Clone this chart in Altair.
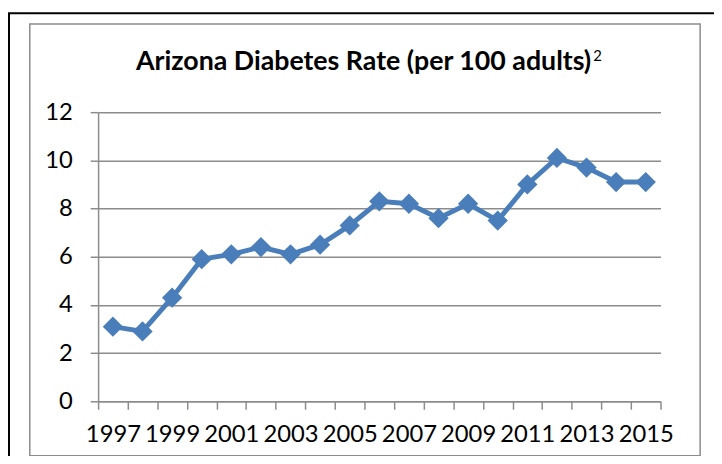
import altair as alt
import pandas as pd

years = [str(y) for y in range(1997, 2016)]
rates = [3.1, 2.9, 4.3, 5.9, 6.1, 6.4, 6.1, 6.5, 7.3, 8.3, 8.2, 7.6, 8.2, 7.5, 9.0, 10.1, 9.7, 9.1, 9.1]
y_ticks = [0, 2, 4, 6, 8, 10, 12]
title_main = "Arizona Diabetes Rate (per 100 adults)"
title_sup = "2"

df = pd.DataFrame({"year": years, "rate": rates})
one = pd.DataFrame({"k": [0]})

BLUE = "#4a7ebb"
GRAY = "#8c8c8c"
FONT = "Lato"

x_enc = alt.X(
    "year:O",
    scale=alt.Scale(type="band", paddingInner=0, paddingOuter=0),
    axis=alt.Axis(
        title=None,
        labelAngle=0,
        tickBand="extent",
        labelExpr="toNumber(datum.value) % 2 == 1 ? datum.label : ''",
        grid=False,
    ),
)
y_enc = alt.Y(
    "rate:Q",
    scale=alt.Scale(domain=[0, 12], nice=False),
    axis=alt.Axis(title=None, values=y_ticks, grid=True),
)

line = alt.Chart(df).mark_line(color=BLUE, strokeWidth=5).encode(x=x_enc, y=y_enc)
pts = alt.Chart(df).mark_point(
    shape="diamond", filled=True, size=420, color=BLUE, opacity=1
).encode(x=x_enc, y=y_enc)

outer = alt.Chart(one).mark_rect(
    fill=None, stroke="black", strokeWidth=2, clip=False
).encode(
    x=alt.value(-90), x2=alt.value(645), y=alt.value(-100), y2=alt.value(365)
)
inner = alt.Chart(one).mark_rect(
    fill=None, stroke=GRAY, strokeWidth=1.5, clip=False
).encode(
    x=alt.value(-69), x2=alt.value(608), y=alt.value(-89), y2=alt.value(347)
)

title_a = alt.Chart(one).mark_text(
    text=title_main,
    font=FONT,
    fontSize=27,
    fontWeight="bold",
    color="black",
    align="right",
    baseline="alphabetic",
).encode(x=alt.value(498), y=alt.value(-43))
title_b = alt.Chart(one).mark_text(
    text=title_sup,
    font=FONT,
    fontSize=15,
    color="black",
    align="left",
    baseline="alphabetic",
).encode(x=alt.value(500), y=alt.value(-52))

chart = (
    alt.layer(outer, inner, title_a, title_b, line, pts)
    .properties(
        width=568,
        height=292,
        autosize=alt.AutoSizeParams(type="none"),
        padding={"left": 91, "top": 103, "right": 54, "bottom": 53},
    )
    .configure_view(stroke=None)
    .configure_axis(
        labelFont=FONT,
        labelFontSize=24,
        labelColor="black",
        domainColor=GRAY,
        domainWidth=1.5,
        tickColor=GRAY,
        tickWidth=1.5,
        tickSize=8,
        gridColor=GRAY,
        gridWidth=1.5,
    )
    .configure_axisY(labelPadding=18)
    .configure_axisX(labelPadding=14)
)

chart.save("out.html", embed_options={"renderer": "svg", "actions": False})
